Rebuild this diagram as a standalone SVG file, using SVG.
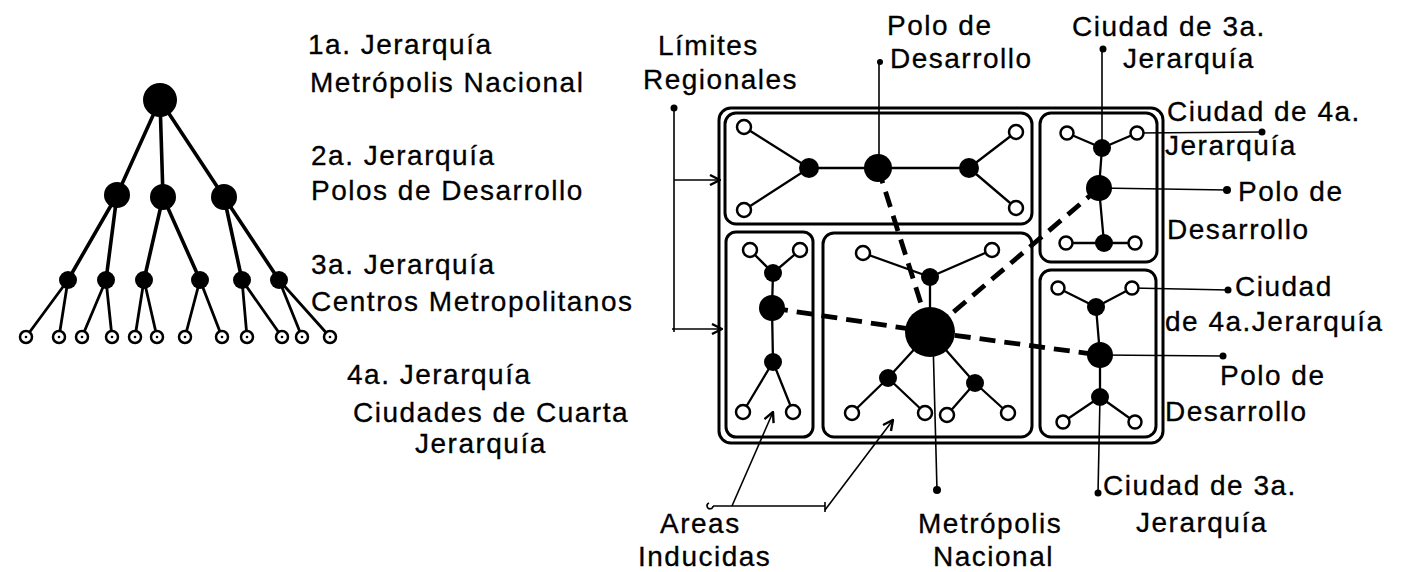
<svg xmlns="http://www.w3.org/2000/svg" width="1406" height="572" viewBox="0 0 1406 572">
<defs>
<style>
text{font-family:"Liberation Sans",Arial,sans-serif;font-size:28px;fill:#000;letter-spacing:1.5px;stroke:#000;stroke-width:0.3}
.e{stroke:#000;stroke-width:3.6;fill:none;stroke-linecap:round}
.e2{stroke:#000;stroke-width:2.8;fill:none;stroke-linecap:round}
.c{stroke:#000;stroke-width:2.3;fill:none}
.l{stroke:#000;stroke-width:1.6;fill:none}
.d{stroke:#000;stroke-width:4.8;fill:none;stroke-dasharray:16 9}
.box{stroke:#000;stroke-width:3;fill:none}
.f{fill:#000}
.o{fill:#fff;stroke:#000;stroke-width:2.5}
</style>
<marker id="v" viewBox="0 0 12 12" refX="11" refY="6" markerWidth="12" markerHeight="12" markerUnits="userSpaceOnUse" orient="auto">
<path d="M1,1 L11,6 L1,11" fill="none" stroke="#000" stroke-width="2.4"/>
</marker>
</defs>

<g id="tree-connectors">
<path class="e" d="M160,100L117,195M160,100L163,197M160,100L224,197"/>
<path class="e" d="M117,195L68,280M117,195L106,280M163,197L144,280M163,197L200,280M224,197L242,280M224,197L279,280"/>
<path class="e2" d="M68,280L26,337M68,280L59,337M106,280L82,337M106,280L112,337M144,280L135,337M144,280L157,337M200,280L185,337M200,280L222,337M242,280L247,337M242,280L282,337M279,280L302,337M279,280L330,337"/>
</g>
<g id="tree-nodes">
<circle id="t1" class="f" cx="160" cy="100" r="17"/>
<circle id="t2a" class="f" cx="117" cy="195" r="13"/>
<circle id="t2b" class="f" cx="163" cy="197" r="13"/>
<circle id="t2c" class="f" cx="224" cy="197" r="13"/>
<g class="f">
<circle cx="68" cy="280" r="9"/><circle cx="106" cy="280" r="9"/><circle cx="144" cy="280" r="9"/>
<circle cx="200" cy="280" r="9"/><circle cx="242" cy="280" r="9"/><circle cx="279" cy="280" r="9"/>
</g>
<g class="o">
<circle cx="26" cy="337" r="6"/><circle cx="59" cy="337" r="6"/><circle cx="82" cy="337" r="6"/>
<circle cx="112" cy="337" r="6"/><circle cx="135" cy="337" r="6"/><circle cx="157" cy="337" r="6"/>
<circle cx="185" cy="337" r="6"/><circle cx="222" cy="337" r="6"/><circle cx="247" cy="337" r="6"/>
<circle cx="282" cy="337" r="6"/><circle cx="302" cy="337" r="6"/><circle cx="330" cy="337" r="6"/>
</g>
<g class="f">
<circle cx="26" cy="337" r="1.3"/><circle cx="59" cy="337" r="1.3"/><circle cx="82" cy="337" r="1.3"/>
<circle cx="112" cy="337" r="1.3"/><circle cx="135" cy="337" r="1.3"/><circle cx="157" cy="337" r="1.3"/>
<circle cx="185" cy="337" r="1.3"/><circle cx="222" cy="337" r="1.3"/><circle cx="247" cy="337" r="1.3"/>
<circle cx="282" cy="337" r="1.3"/><circle cx="302" cy="337" r="1.3"/><circle cx="330" cy="337" r="1.3"/>
</g>
</g>

<g id="tree-labels">
<text x="308" y="54">1a. Jerarquía</text>
<text x="310" y="92">Metrópolis Nacional</text>
<text x="311" y="165">2a. Jerarquía</text>
<text x="311" y="200">Polos de Desarrollo</text>
<text x="311" y="274">3a. Jerarquía</text>
<text x="311" y="311">Centros Metropolitanos</text>
<text x="347" y="384">4a. Jerarquía</text>
<text x="353" y="422">Ciudades de Cuarta</text>
<text x="415" y="453">Jerarquía</text>
</g>

<g id="regions">
<rect id="outer" class="box" x="719" y="108" width="444" height="335" rx="12"/>
<rect id="r-top" class="box" x="725" y="113" width="307" height="111" rx="11"/>
<rect id="r-topright" class="box" x="1040" y="113" width="117" height="149" rx="11"/>
<rect id="r-left" class="box" x="726" y="232" width="87" height="205" rx="10"/>
<rect id="r-center" class="box" x="823" y="233" width="209" height="204" rx="11"/>
<rect id="r-botright" class="box" x="1040" y="270" width="116" height="167" rx="11"/>
</g>

<g id="connectors">
<path class="d" d="M878,168L930,332"/>
<path class="d" d="M1099,188L930,332"/>
<path class="d" d="M772,308L930,332"/>
<path class="d" d="M930,332L1100,355"/>
<path class="c" d="M744,127L809,168M744,210L809,168M809,168L969,168M969,168L1016,132M969,168L1016,208"/>
<path class="c" d="M1067,133L1102,148M1137,133L1102,148M1102,148L1099,188M1099,188L1104,243M1066,243L1135,243"/>
<path class="c" d="M750,250L773,273M800,250L773,273M773,273L772,308M772,308L773,362M773,362L743,412M773,362L793,412"/>
<path class="c" d="M863,253L930,277M992,250L930,277M930,277L930,332M930,332L888,378M888,378L852,413M888,378L925,413M930,332L975,383M975,383L947,415M975,383L1008,413"/>
<path class="c" d="M1058,288L1096,307M1132,288L1096,307M1096,307L1100,355M1100,355L1100,397M1100,397L1063,422M1100,397L1135,422"/>
<path class="l" d="M879,62L879,168"/>
<path class="l" d="M1102,50L1102,148"/>
<path class="l" d="M1137,133L1262,132"/>
<path class="l" d="M1099,188L1227,190"/>
<path class="l" d="M1132,288L1228,290"/>
<path class="l" d="M1100,355L1223,356"/>
<path class="l" d="M1100,397L1098,493"/>
<path class="l" d="M933,340L937,490"/>
<path class="l" d="M674,108L674,332"/>
<path class="l" d="M674,180L720,180" marker-end="url(#v)"/>
<path class="l" d="M672,329L722,329" marker-end="url(#v)"/>
<path class="l" d="M713,506L825,506M825,502L825,512"/>
<path class="l" d="M709,503a3,3 0 1 0 4,3"/>
<path class="l" d="M732,506L773,412" marker-end="url(#v)"/>
<path class="l" d="M825,510L893,420" marker-end="url(#v)"/>
<g class="f">
<circle cx="880" cy="62" r="3"/><circle cx="1103" cy="49" r="3.5"/><circle cx="1262" cy="132" r="3.5"/>
<circle cx="1227" cy="190" r="4"/><circle cx="1228" cy="290" r="3.5"/><circle cx="1223" cy="356" r="3.5"/>
<circle cx="1098" cy="493" r="3.5"/><circle cx="937" cy="490" r="4"/><circle cx="674" cy="108" r="3.5"/>
</g>
</g>

<g id="nodes">
<g id="n-top">
<circle class="o" cx="744" cy="127" r="7"/><circle class="o" cx="744" cy="210" r="7"/>
<circle class="f" cx="809" cy="168" r="10"/><circle class="f" cx="878" cy="168" r="14"/><circle class="f" cx="969" cy="168" r="10"/>
<circle class="o" cx="1016" cy="132" r="7"/><circle class="o" cx="1016" cy="208" r="7"/>
</g>
<g id="n-topright">
<circle class="o" cx="1067" cy="133" r="6.5"/><circle class="o" cx="1137" cy="133" r="6.5"/>
<circle class="f" cx="1102" cy="148" r="9"/><circle class="f" cx="1099" cy="188" r="13"/><circle class="f" cx="1104" cy="243" r="9"/>
<circle class="o" cx="1066" cy="243" r="6.5"/><circle class="o" cx="1135" cy="243" r="6.5"/>
</g>
<g id="n-left">
<circle class="o" cx="750" cy="250" r="7"/><circle class="o" cx="800" cy="250" r="7"/>
<circle class="f" cx="773" cy="273" r="9"/><circle class="f" cx="772" cy="308" r="13"/><circle class="f" cx="773" cy="362" r="9"/>
<circle class="o" cx="743" cy="412" r="7"/><circle class="o" cx="793" cy="412" r="7"/>
</g>
<g id="n-center">
<circle class="o" cx="863" cy="253" r="7"/><circle class="o" cx="992" cy="250" r="7"/>
<circle class="f" cx="930" cy="277" r="9"/><circle class="f" cx="930" cy="332" r="25"/>
<circle class="f" cx="888" cy="378" r="9"/><circle class="f" cx="975" cy="383" r="9"/>
<circle class="o" cx="852" cy="413" r="7"/><circle class="o" cx="925" cy="413" r="7"/>
<circle class="o" cx="947" cy="415" r="7"/><circle class="o" cx="1008" cy="413" r="7"/>
</g>
<g id="n-botright">
<circle class="o" cx="1058" cy="288" r="6.5"/><circle class="o" cx="1132" cy="288" r="6.5"/>
<circle class="f" cx="1096" cy="307" r="9"/><circle class="f" cx="1100" cy="355" r="13"/><circle class="f" cx="1100" cy="397" r="9"/>
<circle class="o" cx="1063" cy="422" r="6.5"/><circle class="o" cx="1135" cy="422" r="6.5"/>
</g>
</g>

<g id="labels">
<text x="658" y="55">Límites</text>
<text x="643" y="89">Regionales</text>
<text x="887" y="35">Polo de</text>
<text x="890" y="68">Desarrollo</text>
<text x="1072" y="36">Ciudad de 3a.</text>
<text x="1123" y="68">Jerarquía</text>
<text x="1167" y="121">Ciudad de 4a.</text>
<text x="1165" y="155">Jerarquía</text>
<text x="1238" y="201">Polo de</text>
<text x="1167" y="239">Desarrollo</text>
<text x="1235" y="296">Ciudad</text>
<text x="1165" y="331">de 4a.Jerarquía</text>
<text x="1220" y="385">Polo de</text>
<text x="1165" y="421">Desarrollo</text>
<text x="1103" y="495">Ciudad de 3a.</text>
<text x="1136" y="532">Jerarquía</text>
<text x="660" y="533">Areas</text>
<text x="638" y="566">Inducidas</text>
<text x="918" y="533">Metrópolis</text>
<text x="933" y="566">Nacional</text>
</g>
</svg>
